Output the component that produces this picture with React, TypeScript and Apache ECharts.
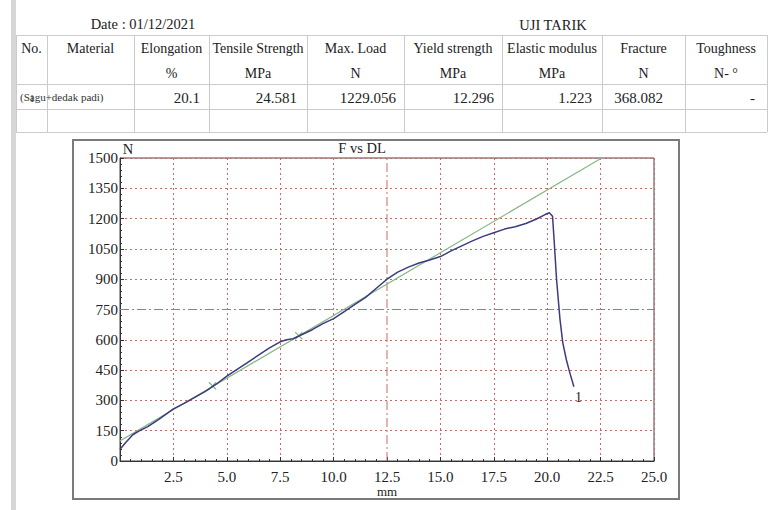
import React, { useEffect, useRef } from 'react';
import * as echarts from 'echarts';

const FONT = '"Liberation Serif", "Times New Roman", serif';

// ---- table data ----
const headerLine1 = ['No.', 'Material', 'Elongation', 'Tensile Strength', 'Max. Load', 'Yield strength', 'Elastic modulus', 'Fracture', 'Toughness'];
const headerLine2 = ['', '', '%', 'MPa', 'N', 'MPa', 'MPa', 'N', 'N- °'];
const rowNo = '1';
const rowMaterial = '(Sagu+dedak padi)';
const rowValues = ['20.1', '24.581', '1229.056', '12.296', '1.223', '368.082', '-'];
const dateText = 'Date : 01/12/2021';
const testTitle = 'UJI TARIK';

// ---- chart data ----
const chartTitle = 'F vs DL';
const yUnit = 'N';
const xUnit = 'mm';
const curveX = [0, 0.3, 0.6, 0.86, 1.3, 1.8, 2.5, 3.0, 3.5, 4.0, 4.5, 5.0, 5.5, 6.0, 6.5, 7.0, 7.5, 7.8, 8.1, 8.5, 9.0, 9.5, 10.0, 10.5, 11.0, 11.5, 12.0, 12.5, 13.0, 13.5, 14.0, 14.5, 15.0, 15.5, 16.0, 16.5, 17.0, 17.5, 18.0, 18.5, 19.0, 19.5, 19.9, 20.1, 20.25, 20.32, 20.44, 20.6, 20.73, 20.9, 21.05, 21.25];
const curveY = [58, 95, 130, 147, 170, 205, 258, 285, 315, 345, 380, 420, 455, 490, 525, 560, 590, 600, 605, 625, 650, 680, 705, 740, 775, 810, 855, 900, 935, 960, 980, 995, 1012, 1040, 1065, 1090, 1112, 1130, 1148, 1160, 1176, 1198, 1220, 1229, 1212, 1100, 896, 700, 585, 500, 440, 368];
const tangentX = [-1.6, 22.55];
const tangentY = [0, 1500];
const markerX = [4.33, 8.37];
const markerY = [372, 620];
const curveEndLabel = '1';
// middle grid lines drawn dash-dot
const midX = 12.5;
const midY = 750;

const colEdges = [16, 47, 134, 209, 307, 404, 502, 602, 685, 767];
const rowEdges = [35, 84, 109, 132];

const GRID_RED = '#c86a6a';
const X_MIN = 0, X_MAX = 25, Y_MIN = 0, Y_MAX = 1500;

export default function App() {
  const ref = useRef<HTMLDivElement>(null);
  useEffect(() => {
    document.body.style.margin = '0';
    const chart = echarts.init(ref.current!, null, { renderer: 'svg' });

    const txt = (text: string, x: number, y: number, size: number, align = 'center', color = '#222') => ({
      type: 'text',
      silent: true,
      z: 10,
      style: {
        text, x, y, fill: color,
        font: `${size}px ${FONT}`,
        align, verticalAlign: 'middle',
        textAlign: align, textVerticalAlign: 'middle',
      },
    });
    const ln = (x1: number, y1: number, x2: number, y2: number, stroke = '#cbcbcb', lineWidth = 1) => ({
      type: 'line', silent: true, z: 5,
      shape: { x1, y1, x2, y2 },
      style: { stroke, lineWidth },
    });

    const graphics: any[] = [];
    graphics.push({ type: 'rect', silent: true, z: 1, shape: { x: 11, y: 0, width: 5, height: 510 }, style: { fill: '#d6d6d6' } });
    rowEdges.forEach((y) => graphics.push(ln(colEdges[0], y + 0.5, colEdges[colEdges.length - 1], y + 0.5)));
    colEdges.forEach((x) => graphics.push(ln(x + 0.5, rowEdges[0], x + 0.5, rowEdges[rowEdges.length - 1])));
    for (let i = 0; i < headerLine1.length; i++) {
      const cx = (colEdges[i] + colEdges[i + 1]) / 2;
      graphics.push(txt(headerLine1[i], cx, 48, 14));
      if (headerLine2[i]) graphics.push(txt(headerLine2[i], cx, 73, 14));
    }
    graphics.push(txt(rowMaterial, 20, 97, 11, 'left', '#333'));
    graphics.push(txt(rowNo, 32, 98, 10, 'center', '#333'));
    const rightPads = [9, 10, 8, 8, 10, 22, 12];
    rowValues.forEach((v, i) => {
      graphics.push(txt(v, colEdges[i + 3] - rightPads[i], 98, 15, 'right'));
    });
    graphics.push(txt(dateText, 143, 24, 14.5));
    graphics.push(txt(testTitle, 553, 25, 14.5));
    graphics.push({ type: 'rect', silent: true, z: 1, shape: { x: 73, y: 140, width: 606, height: 359 }, style: { fill: 'none', stroke: '#7a7a7a', lineWidth: 2 } });
    graphics.push(txt(chartTitle, 362, 148, 14.5));
    graphics.push(txt(yUnit, 128, 149, 14.5));
    graphics.push(txt(xUnit, 387, 491, 13));

    const yColors = Array.from({ length: 11 }, (_, i) => (i === 5 ? 'rgba(0,0,0,0)' : GRID_RED));
    const xColors = Array.from({ length: 11 }, (_, i) => (i === 5 ? 'rgba(0,0,0,0)' : GRID_RED));
    const dashDot = { color: GRID_RED, type: [9, 3, 2, 3], width: 1 };

    const option: any = {
      animation: false,
      backgroundColor: '#ffffff',
      graphic: graphics,
      grid: { left: 120, top: 158, width: 534, height: 303, show: true, borderColor: '#444', borderWidth: 1, backgroundColor: 'transparent' },
      xAxis: {
        type: 'value', min: X_MIN, max: X_MAX, interval: 2.5,
        axisLine: { show: true, onZero: false, lineStyle: { color: '#333', width: 1 } },
        axisTick: { show: true, inside: true, length: 4, lineStyle: { color: '#333' } },
        minorTick: { show: true, splitNumber: 5, length: 2, lineStyle: { color: '#333' } },
        axisLabel: { formatter: (v: number) => (v === 0 ? '' : v.toFixed(1)), fontSize: 15, fontFamily: FONT, color: '#222', margin: 8 },
        splitLine: { show: true, lineStyle: { color: xColors, type: [2, 3], width: 1 } },
      },
      yAxis: {
        type: 'value', min: Y_MIN, max: Y_MAX, interval: 150,
        axisLine: { show: true, onZero: false, lineStyle: { color: '#333', width: 1 } },
        axisTick: { show: true, inside: true, length: 4, lineStyle: { color: '#333' } },
        minorTick: { show: true, splitNumber: 5, length: 2, lineStyle: { color: '#333' } },
        axisLabel: { formatter: (v: number) => String(v), fontSize: 15, fontFamily: FONT, color: '#222', margin: 2 },
        splitLine: { show: true, lineStyle: { color: yColors, type: [2, 3], width: 1 } },
      },
      series: [
        {
          type: 'line', showSymbol: false, silent: true, z: 1,
          data: [[midX, Y_MIN], [midX, Y_MAX]],
          lineStyle: dashDot, itemStyle: { color: GRID_RED },
        },
        {
          type: 'line', showSymbol: false, silent: true, z: 1,
          data: [[X_MIN, midY], [X_MAX, midY]],
          lineStyle: dashDot, itemStyle: { color: GRID_RED },
        },
        {
          type: 'line', clip: false, showSymbol: false, silent: true, z: 2,
          data: tangentX.map((x, i) => [x, tangentY[i]]),
          lineStyle: { color: '#86b886', width: 1.2 },
        },
        {
          type: 'scatter', silent: true, z: 3,
          symbol: 'path://M0,1L1,0L5,4L9,0L10,1L6,5L10,9L9,10L5,6L1,10L0,9L4,5Z',
          symbolSize: 8,
          itemStyle: { color: '#5f9f5f' },
          data: markerX.map((x, i) => [x, markerY[i]]),
        },
        {
          type: 'line', showSymbol: false, silent: true, z: 4,
          data: curveX.map((x, i) => [x, curveY[i]]),
          lineStyle: { color: '#3d3a80', width: 1.5 },
          endLabel: { show: true, formatter: curveEndLabel, fontSize: 14, fontFamily: FONT, color: '#222', distance: 1, offset: [0, 11] },
        },
      ],
    };
    chart.setOption(option);
    return () => chart.dispose();
  }, []);
  return <div ref={ref} style={{ width: 773, height: 510, background: '#fff' }} />;
}
